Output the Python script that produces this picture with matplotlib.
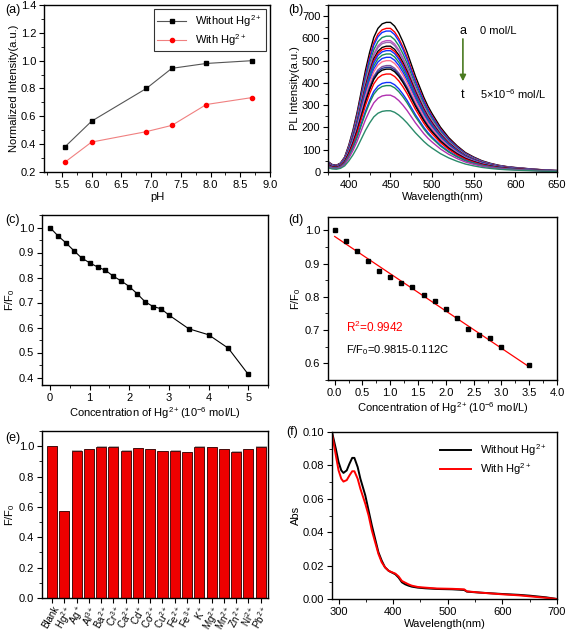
import numpy as np
import matplotlib
matplotlib.use('Agg')
import matplotlib.pyplot as plt
from matplotlib.ticker import MultipleLocator

plt.rcParams['font.family'] = ['Liberation Sans', 'DejaVu Sans']
plt.rcParams['mathtext.default'] = 'regular'
plt.rcParams['font.size'] = 8
plt.rcParams['xtick.direction'] = 'out'
plt.rcParams['ytick.direction'] = 'out'
plt.rcParams['xtick.major.size'] = 3.5
plt.rcParams['ytick.major.size'] = 3.5
plt.rcParams['xtick.minor.size'] = 2
plt.rcParams['ytick.minor.size'] = 2
plt.rcParams['axes.linewidth'] = 1.0
plt.rcParams['axes.labelpad'] = 1.5

# (a) pH
ph = [5.55, 6.0, 6.92, 7.35, 7.93, 8.7]
ph_without = [0.38, 0.565, 0.80, 0.945, 0.98, 1.0]
ph_with = [0.27, 0.415, 0.49, 0.535, 0.685, 0.735]

# (b) PL spectra: shape of top curve + peak heights of curves a..t
pl_wl = [375, 380, 385, 390, 395, 400, 405, 410, 415, 420, 425, 430, 435, 440, 445,
         450, 455, 460, 465, 470, 475, 480, 485, 490, 495, 500, 510, 520, 530, 540,
         550, 560, 570, 580, 590, 600, 610, 620, 630, 640, 650]
pl_shape = [0.07, 0.05, 0.045, 0.06, 0.1, 0.18, 0.28, 0.40, 0.54, 0.68, 0.80, 0.90, 0.96, 0.99, 1.0,
            1.0, 0.975, 0.93, 0.87, 0.80, 0.72, 0.64, 0.57, 0.50, 0.44, 0.39, 0.30, 0.23, 0.175, 0.13,
            0.10, 0.075, 0.058, 0.045, 0.036, 0.03, 0.025, 0.02, 0.016, 0.012, 0.01]
pl_peaks = [672, 645, 633, 610, 590, 582, 565, 555, 545, 530,
            515, 500, 478, 470, 462, 440, 402, 388, 345, 275]
pl_colors = ['black', 'red', '#1030ff', '#1a8a5a', '#c050c0', '#9a6ab0', 'black', 'red', '#1030ff', '#1a8a5a',
             '#1030ff', '#ff7090', '#8050a0', '#203090', 'black', 'red', '#1030ff', '#1a8a5a', '#b030b0', '#2a8a6a']

# (c) and (d) quenching
conc = [0, 0.2, 0.4, 0.6, 0.8, 1.0, 1.2, 1.4, 1.6, 1.8, 2.0, 2.2, 2.4, 2.6, 2.8, 3.0, 3.5, 4.0, 4.5, 5.0]
ratio = [1.0, 0.967, 0.939, 0.908, 0.878, 0.859, 0.842, 0.829, 0.805, 0.786, 0.764, 0.735, 0.703,
         0.684, 0.675, 0.650, 0.595, 0.571, 0.517, 0.413]
fit_a = 0.9815
fit_b = -0.112

# (e) selectivity
ions = ['Blank', 'Hg$^{2+}$', 'Ag$^+$', 'Al$^{3+}$', 'Ba$^{2+}$', 'Cr$^{3+}$', 'Ca$^{2+}$', 'Cd$^+$',
        'Co$^{2+}$', 'Cu$^{2+}$', 'Fe$^{2+}$', 'Fe$^{3+}$', 'K$^+$', 'Mg$^{2+}$', 'Mn$^{2+}$',
        'Zn$^{2+}$', 'Ni$^{2+}$', 'Pb$^{2+}$']
ion_ratio = [1.0, 0.57, 0.97, 0.98, 0.995, 0.995, 0.97, 0.985, 0.98, 0.965, 0.97, 0.96,
             0.995, 0.993, 0.98, 0.962, 0.98, 0.995]

# (f) absorbance
abs_wl = [288, 295, 300, 305, 309, 315, 320, 325, 329, 335, 340, 349, 355, 361, 367, 373, 379, 385,
          392, 398, 404, 410, 416, 422, 428, 434, 445, 459, 480, 508, 530, 535, 560, 600, 630, 650, 680, 700]
abs_without = [0.100, 0.090, 0.082, 0.077, 0.0755, 0.077, 0.081, 0.0845, 0.0845, 0.079, 0.072, 0.062,
               0.053, 0.044, 0.036, 0.028, 0.023, 0.019, 0.0168, 0.0158, 0.0148, 0.0128, 0.010, 0.0088,
               0.0080, 0.0074, 0.0068, 0.0064, 0.0060, 0.0058, 0.0054, 0.0044, 0.0038, 0.0030, 0.0025,
               0.0020, 0.0010, 0.0]
abs_with = [0.099, 0.086, 0.077, 0.072, 0.0703, 0.0712, 0.074, 0.0765, 0.0765, 0.072, 0.066, 0.057,
            0.050, 0.041, 0.034, 0.027, 0.022, 0.019, 0.0168, 0.0160, 0.0152, 0.0135, 0.0108, 0.0098,
            0.0088, 0.0080, 0.0072, 0.0068, 0.0063, 0.0061, 0.0058, 0.0046, 0.0038, 0.0028, 0.0022,
            0.0016, 0.0007, 0.0]

fig = plt.figure(figsize=(5.67, 6.34), dpi=100)
W, H = 567, 634


def add_ax(l, t, r, b):
    return fig.add_axes([l / W, 1 - b / H, (r - l) / W, (b - t) / H])


def style(ax):
    ax.tick_params(which='both', top=False, right=False, pad=2)


# (a)
ax = add_ax(44, 5, 270, 172)
ax.plot(ph, ph_without, color='#555555', lw=0.8, marker='s', ms=3, mfc='black', mec='black',
        label='Without Hg$^{2+}$')
ax.plot(ph, ph_with, color='#f08080', lw=0.8, marker='o', ms=3, mfc='red', mec='red',
        label='With Hg$^{2+}$')
ax.set_xlim(5.2, 9.0)
ax.set_ylim(0.2, 1.4)
ax.xaxis.set_major_locator(MultipleLocator(0.5))
ax.xaxis.set_minor_locator(MultipleLocator(0.25))
ax.yaxis.set_major_locator(MultipleLocator(0.2))
ax.yaxis.set_minor_locator(MultipleLocator(0.1))
ax.set_xlabel('pH')
ax.set_ylabel('Normalized Intensity(a.u.)')
leg = ax.legend(loc='upper right', fancybox=False, edgecolor='black', fontsize=8,
                borderpad=0.3, handlelength=2.6, labelspacing=0.3, borderaxespad=0.4)
leg.get_frame().set_linewidth(0.8)
style(ax)
fig.text(5 / W, 1 - 10 / H, '(a)', fontsize=9, va='center')

# (b)
ax = add_ax(328, 5, 557, 172)
for peak, c in zip(pl_peaks, pl_colors):
    ax.plot(pl_wl, [peak * s for s in pl_shape], color=c, lw=1.0)
ax.set_xlim(375, 650)
ax.set_ylim(0, 750)
ax.xaxis.set_major_locator(MultipleLocator(50))
ax.xaxis.set_minor_locator(MultipleLocator(25))
ax.yaxis.set_major_locator(MultipleLocator(100))
ax.yaxis.set_minor_locator(MultipleLocator(50))
ax.set_xlabel('Wavelength(nm)')
ax.set_ylabel('PL Intensity(a.u.)')
ax.annotate('', xy=(537, 395), xytext=(537, 610),
            arrowprops=dict(arrowstyle='-|>', color='#4a7a20', lw=1.2, mutation_scale=9))
ax.text(537, 633, 'a', ha='center', va='center', fontsize=9)
ax.text(558, 633, '0 mol/L', ha='left', va='center', fontsize=8)
ax.text(537, 348, 't', ha='center', va='center', fontsize=9)
ax.text(558, 348, '5×10$^{-6}$ mol/L', ha='left', va='center', fontsize=8)
style(ax)
fig.text(288 / W, 1 - 10 / H, '(b)', fontsize=9, va='center')

# (c)
ax = add_ax(42, 215, 268, 385)
ax.plot(conc, ratio, color='black', lw=0.8, marker='s', ms=3)
ax.set_xlim(-0.2, 5.5)
ax.set_ylim(0.37, 1.05)
ax.xaxis.set_major_locator(MultipleLocator(1))
ax.xaxis.set_minor_locator(MultipleLocator(0.5))
ax.yaxis.set_major_locator(MultipleLocator(0.1))
ax.yaxis.set_minor_locator(MultipleLocator(0.05))
ax.set_xlabel('Concentration of Hg$^{2+}$(10$^{-6}$ mol/L)')
ax.set_ylabel('F/F$_0$')
style(ax)
fig.text(5 / W, 1 - 220 / H, '(c)', fontsize=9, va='center')

# (d)
ax = add_ax(328, 217, 557, 380)
lin_c = [c for c in conc if c <= 3.5]
lin_r = ratio[:len(lin_c)]
ax.plot([0, 3.5], [fit_a, fit_a + fit_b * 3.5], color='red', lw=0.9)
ax.plot(lin_c, lin_r, ls='none', color='black', marker='s', ms=3)
ax.set_xlim(-0.12, 4.0)
ax.set_ylim(0.55, 1.04)
ax.xaxis.set_major_locator(MultipleLocator(0.5))
ax.xaxis.set_minor_locator(MultipleLocator(0.25))
ax.yaxis.set_major_locator(MultipleLocator(0.1))
ax.yaxis.set_minor_locator(MultipleLocator(0.05))
ax.set_xlabel('Concentration of Hg$^{2+}$(10$^{-6}$ mol/L)')
ax.set_ylabel('F/F$_0$')
ax.text(0.2, 0.709, 'R$^2$=0.9942', color='red', fontsize=8.5, va='center')
ax.text(0.2, 0.64, 'F/F$_0$=0.9815-0.112C', color='black', fontsize=8, va='center')
style(ax)
fig.text(288 / W, 1 - 220 / H, '(d)', fontsize=9, va='center')

# (e)
ax = add_ax(42, 431, 268, 598)
xs = np.arange(len(ions))
ax.bar(xs + 0.07, [v + 0.004 for v in ion_ratio], width=0.82, color='#b0b0b0', zorder=1)
ax.bar(xs, ion_ratio, width=0.82, color='#ee0000', edgecolor='#330000', lw=0.6, zorder=2)
ax.set_xlim(-0.82, 17.6)
ax.set_ylim(0, 1.1)
ax.set_xticks(xs)
ax.set_xticklabels(ions, rotation=60, ha='right', rotation_mode='anchor', fontsize=7)
ax.yaxis.set_major_locator(MultipleLocator(0.2))
ax.yaxis.set_minor_locator(MultipleLocator(0.1))
ax.set_ylabel('F/F$_0$')
style(ax)
ax.tick_params(axis='x', pad=1)
fig.text(5 / W, 1 - 438 / H, '(e)', fontsize=9, va='center')

# (f)
ax = add_ax(332, 432, 557, 599)
ax.plot(abs_wl, abs_without, color='black', lw=1.4, label='Without Hg$^{2+}$')
ax.plot(abs_wl, abs_with, color='red', lw=1.4, label='With Hg$^{2+}$')
ax.set_xlim(288, 700)
ax.set_ylim(0, 0.10)
ax.xaxis.set_major_locator(MultipleLocator(100))
ax.xaxis.set_minor_locator(MultipleLocator(50))
ax.yaxis.set_major_locator(MultipleLocator(0.02))
ax.yaxis.set_minor_locator(MultipleLocator(0.01))
ax.set_xlabel('Wavelength(nm)')
ax.set_ylabel('Abs')
ax.legend(loc='upper right', frameon=False, fontsize=8, handlelength=2.8, labelspacing=0.3)
style(ax)
fig.text(286 / W, 1 - 432 / H, '(f)', fontsize=9, va='center')

fig.savefig('out.png', dpi=100)
